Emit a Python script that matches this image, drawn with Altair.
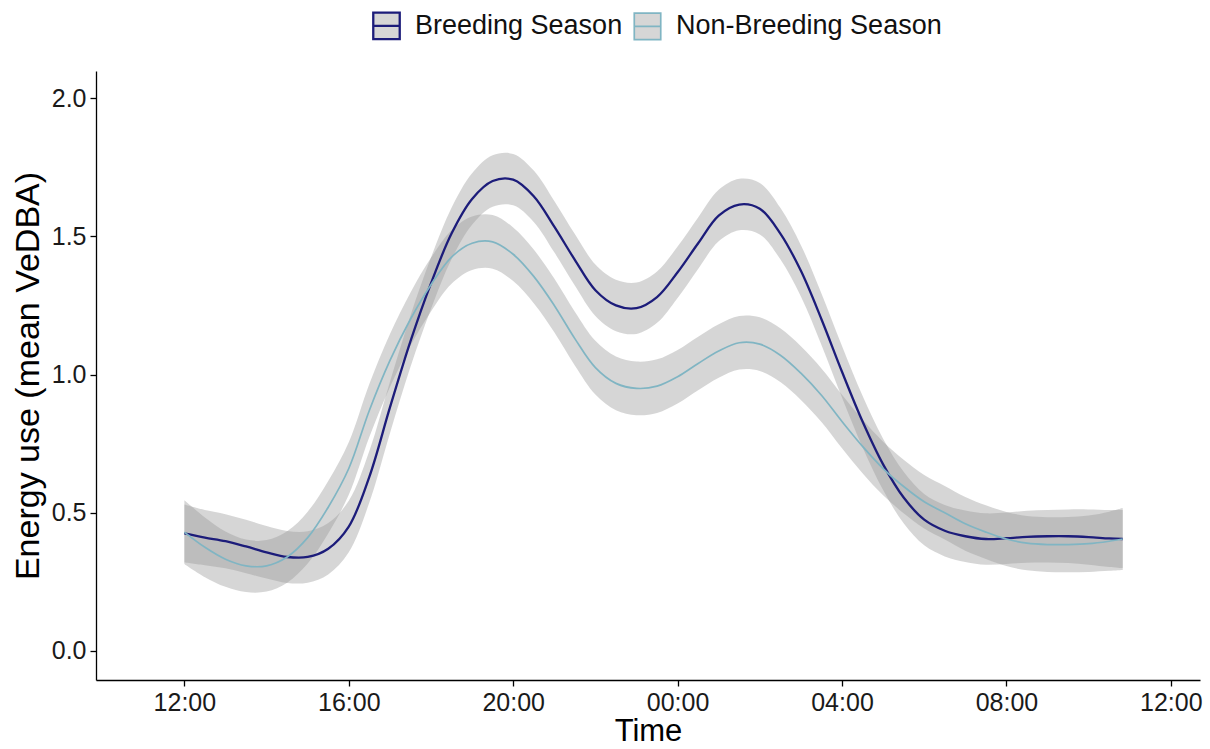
import altair as alt
import pandas as pd

# Hours after 12:00 (noon) at which the smoothed curves are sampled
hours = [0.0, 0.5, 1.0, 1.5, 2.0, 2.5, 3.0, 3.5, 4.0, 4.5, 5.0, 5.5, 6.0, 6.5,
         7.0, 7.5, 8.0, 8.5, 9.0, 9.5, 10.0, 10.5, 11.0, 11.5, 12.0, 12.5,
         13.0, 13.5, 14.0, 14.5, 15.0, 15.5, 16.0, 16.5, 17.0, 17.5, 18.0,
         18.5, 19.0, 19.5, 20.0, 20.5, 21.0, 21.5, 22.0, 22.5, 22.83]

# Fitted mean VeDBA, breeding season
breeding_fit = [0.425, 0.41, 0.397, 0.378, 0.357, 0.34, 0.34, 0.37, 0.45, 0.63,
                0.88, 1.12, 1.33, 1.51, 1.635, 1.70, 1.705, 1.645, 1.535, 1.415,
                1.305, 1.25, 1.24, 1.28, 1.37, 1.475, 1.575, 1.615, 1.60, 1.51,
                1.375, 1.20, 1.01, 0.83, 0.675, 0.555, 0.475, 0.435, 0.415,
                0.405, 0.408, 0.413, 0.415, 0.415, 0.412, 0.407, 0.405]
# Half-width of the confidence band, breeding season
breeding_half = [0.105, 0.10, 0.098, 0.097, 0.095, 0.094, 0.093, 0.093, 0.093,
                 0.093, 0.093, 0.093, 0.093, 0.093, 0.093, 0.093, 0.093, 0.093,
                 0.093, 0.093, 0.093, 0.093, 0.093, 0.093, 0.093, 0.093, 0.093,
                 0.093, 0.093, 0.093, 0.093, 0.093, 0.093, 0.093, 0.093, 0.093,
                 0.093, 0.093, 0.093, 0.093, 0.093, 0.094, 0.095, 0.097, 0.10,
                 0.103, 0.105]

# Fitted mean VeDBA, non-breeding season
nonbreeding_fit = [0.43, 0.375, 0.332, 0.308, 0.308, 0.34, 0.41, 0.52, 0.66,
                   0.87, 1.05, 1.20, 1.325, 1.425, 1.475, 1.48, 1.435, 1.355,
                   1.25, 1.13, 1.025, 0.968, 0.95, 0.958, 0.992, 1.04, 1.085,
                   1.115, 1.11, 1.07, 1.005, 0.925, 0.83, 0.74, 0.66, 0.595,
                   0.54, 0.50, 0.46, 0.43, 0.405, 0.39, 0.385, 0.385, 0.388,
                   0.397, 0.405]
# Half-width of the confidence band, non-breeding season
nonbreeding_half = [0.115, 0.108, 0.10, 0.095, 0.093, 0.093, 0.094, 0.095,
                    0.095, 0.096, 0.096, 0.096, 0.097, 0.097, 0.097, 0.097,
                    0.097, 0.097, 0.097, 0.097, 0.097, 0.097, 0.097, 0.097,
                    0.097, 0.097, 0.097, 0.097, 0.097, 0.097, 0.097, 0.097,
                    0.097, 0.097, 0.097, 0.097, 0.097, 0.097, 0.097, 0.097,
                    0.098, 0.098, 0.099, 0.10, 0.102, 0.107, 0.112]

seasons = ["Breeding Season", "Non-Breeding Season"]
line_colors = ["#1c1c7a", "#80b5c3"]
line_widths = [2.3, 1.7]

tick_hours = [0, 4, 8, 12, 16, 20, 24]
tick_labels = ["12:00", "16:00", "20:00", "00:00", "04:00", "08:00", "12:00"]
y_ticks = [0.0, 0.5, 1.0, 1.5, 2.0]

rows = []
for season, fits, halves in [(seasons[0], breeding_fit, breeding_half),
                             (seasons[1], nonbreeding_fit, nonbreeding_half)]:
    for h, f, w in zip(hours, fits, halves):
        rows.append({"hour": h, "season": season, "fit": f, "half": w})
df = pd.DataFrame(rows)

label_expr = "[" + ",".join(f"'{t}'" for t in tick_labels) + "][datum.value / 4]"

x_enc = alt.X(
    "hour:Q",
    scale=alt.Scale(domain=[-2.15, 24.71], nice=False, zero=False),
    axis=alt.Axis(values=tick_hours, labelExpr=label_expr, title="Time",
                  grid=False),
)
y_scale = alt.Scale(domain=[-0.105, 2.098], nice=False, zero=False)

base = alt.Chart(df).transform_calculate(
    lo="datum.fit - datum.half", hi="datum.fit + datum.half"
)

bands = base.mark_area(
    interpolate="catmull-rom", color="#999999", opacity=0.4
).encode(
    x=x_enc,
    y=alt.Y("lo:Q", scale=y_scale,
            axis=alt.Axis(values=y_ticks, format=".1f",
                          title="Energy use (mean VeDBA)", grid=False)),
    y2="hi:Q",
    detail="season:N",
)

lines = base.mark_line(interpolate="catmull-rom").encode(
    x=x_enc,
    y=alt.Y("fit:Q", scale=y_scale),
    color=alt.Color(
        "season:N",
        scale=alt.Scale(domain=seasons, range=line_colors),
        legend=alt.Legend(
            title=None,
            orient="none",
            direction="horizontal",
            legendX=276,
            legendY=-60,
            symbolType="M-1,-1H1V1H-1Z M-1,0H1",
            symbolSize=700,
            symbolFillColor="#d6d6d6",
            symbolStrokeWidth=2,
            labelFontSize=27,
            labelFont="Liberation Sans",
            labelColor="#111111",
            labelLimit=0,
            columnPadding=7,
            labelOffset=14,
        ),
    ),
    strokeWidth=alt.StrokeWidth(
        "season:N",
        scale=alt.Scale(domain=seasons, range=line_widths),
        legend=None,
    ),
)

chart = (
    alt.layer(bands, lines)
    .properties(
        width=1104,
        height=609,
        autosize=alt.AutoSizeParams(type="none"),
        padding={"left": 96, "top": 71, "right": 10, "bottom": 69},
    )
    .configure_view(stroke=None)
    .configure_axis(
        domainColor="#000000",
        domainWidth=1.3,
        tickColor="#000000",
        tickWidth=1.3,
        tickSize=6,
        labelFont="Liberation Sans",
        labelFontSize=25,
        labelColor="#1a1a1a",
        labelPadding=4,
        titleFont="Liberation Sans",
        titleFontWeight="normal",
        titleColor="#000000",
    )
    .configure_axisX(titleFontSize=31, titlePadding=1, labelPadding=4)
    .configure_axisY(titleFontSize=34, titlePadding=6)
)

chart.save("out.html", embed_options={"renderer": "svg", "actions": False})
